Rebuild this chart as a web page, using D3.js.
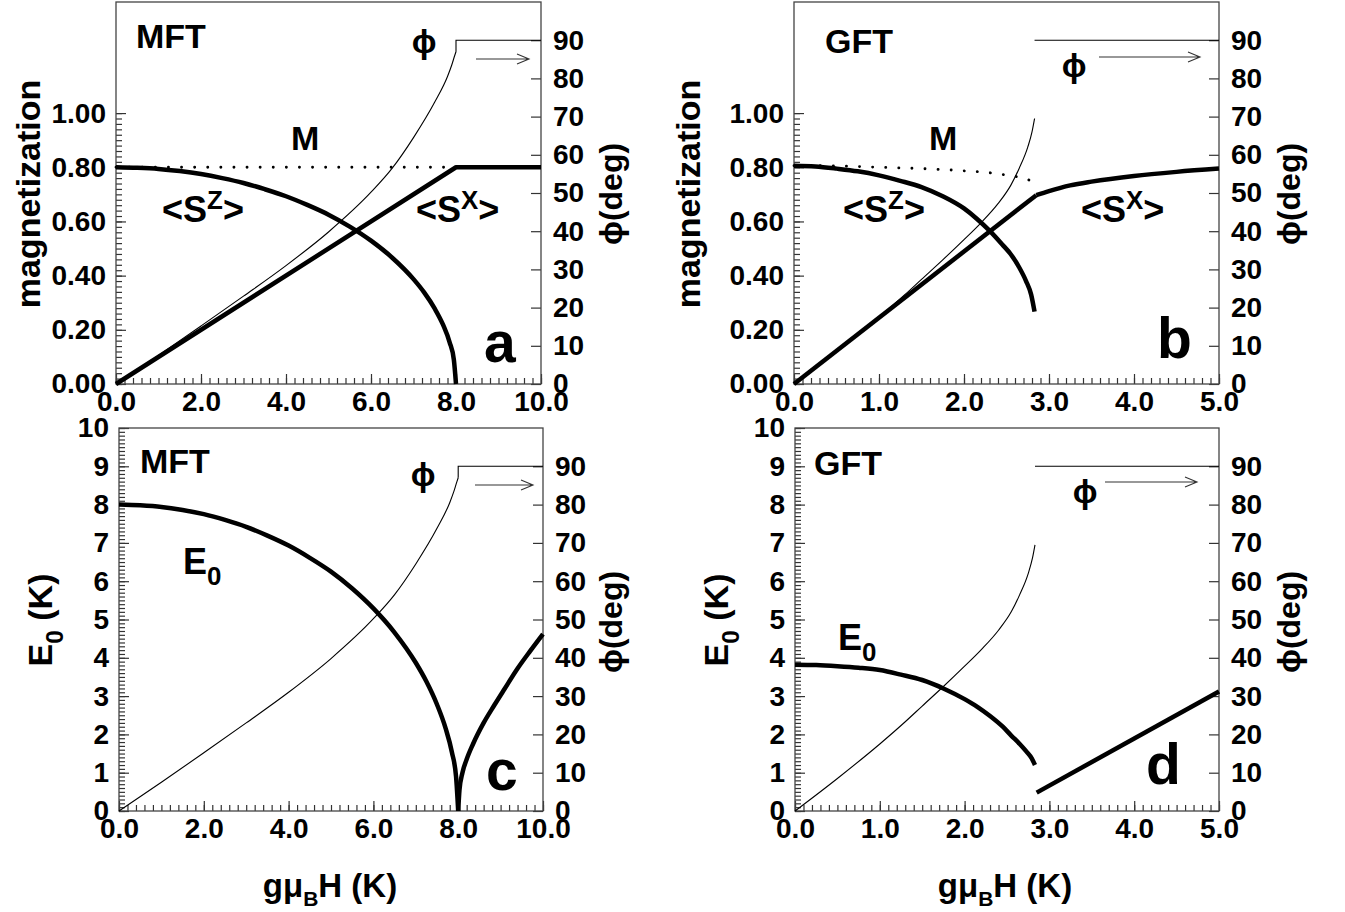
<!DOCTYPE html>
<html>
<head>
<meta charset="utf-8">
<script src="https://cdn.jsdelivr.net/npm/d3@7"></script>
<style>
  body { margin: 0; background: #fff; }
  text { font-family: "Liberation Sans", Arial, sans-serif; font-weight: bold; fill: #000; }
</style>
</head>
<body>
<svg id="fig" width="1345" height="912"></svg>
<script>
// ---- data ----
// MFT (panels a, c), field gμBH in K
var hMFT = [0, 0.5, 1, 1.5, 2, 2.5, 3, 3.5, 4, 4.5, 5, 5.5, 6, 6.5, 7, 7.25, 7.5, 7.7, 7.85, 7.95, 8.0];
var szMFT = [0.800, 0.798, 0.794, 0.786, 0.775, 0.760, 0.742, 0.719, 0.693, 0.661, 0.625, 0.581, 0.529, 0.466, 0.387, 0.338, 0.278, 0.217, 0.154, 0.089, 0];
var e0MFT = [8.00, 7.98, 7.94, 7.86, 7.75, 7.60, 7.42, 7.19, 6.93, 6.61, 6.25, 5.81, 5.29, 4.66, 3.87, 3.38, 2.78, 2.17, 1.54, 0.89, 0];
var hE0MFThigh = [8.0, 8.03, 8.1, 8.2, 8.35, 8.6, 8.85, 9.1, 9.4, 9.7, 10];
var e0MFThigh = [0, 0.55, 1.0, 1.35, 1.75, 2.3, 2.76, 3.2, 3.72, 4.18, 4.62];
var hSxMFT = [0, 8, 10];
var sxMFT = [0, 0.8, 0.8];
var hMMFT = [0, 8];
var mMFT = [0.8, 0.8];
var hPhiMFT = [0, 1, 2, 3, 4, 5, 6, 6.5, 7, 7.5, 7.8, 7.9, 7.97, 8.0];
var phiMFT = [0, 7.5, 15.2, 23.0, 31.0, 39.8, 50.2, 56.5, 64.5, 73.8, 80.5, 83.5, 86, 87];
var hPhiMFTtop = [8.0, 8.0, 10];
var phiMFTtop = [87, 90, 90];

// GFT (panels b, d)
var hLowGFT = [0, 0.25, 0.5, 0.75, 1.0, 1.25, 1.5, 1.75, 2.0, 2.15, 2.3, 2.45, 2.55, 2.65, 2.73, 2.79, 2.83];
var szGFT = [0.806, 0.803, 0.795, 0.785, 0.770, 0.750, 0.727, 0.693, 0.648, 0.610, 0.566, 0.515, 0.479, 0.430, 0.380, 0.330, 0.267];
var e0GFT = [3.82, 3.81, 3.78, 3.74, 3.68, 3.56, 3.42, 3.20, 2.92, 2.72, 2.48, 2.20, 1.97, 1.75, 1.55, 1.38, 1.20];
var hE0GFThigh = [2.85, 5.0];
var e0GFThigh = [0.48, 3.12];
var hSxGFTlow = [0, 2.85];
var sxGFTlow = [0, 0.697];
var hSxGFThigh = [2.85, 3.0, 3.25, 3.5, 4.0, 4.5, 5.0];
var sxGFThigh = [0.697, 0.712, 0.733, 0.747, 0.768, 0.783, 0.795];
var hMGFT = [0, 0.5, 1.0, 1.5, 2.0, 2.3, 2.5, 2.7, 2.85];
var mGFT = [0.806, 0.805, 0.800, 0.795, 0.787, 0.780, 0.771, 0.760, 0.742];
var hPhiGFT = [0, 0.5, 1.0, 1.3, 1.5, 1.75, 2.0, 2.2, 2.4, 2.55, 2.65, 2.75, 2.8, 2.83];
var phiGFT = [0, 8.5, 17.5, 23.3, 27.4, 32.5, 37.8, 42.2, 47.2, 52, 56.5, 62, 66, 69.5];
var hPhiGFThigh = [2.83, 5.0];
var phiGFThigh = [90, 90];

// tick values
var magTicks = [0, 0.2, 0.4, 0.6, 0.8, 1.0];
var eTicks = [0, 1, 2, 3, 4, 5, 6, 7, 8, 9, 10];
var phiTicks = [0, 10, 20, 30, 40, 50, 60, 70, 80, 90];
var hTicksMFT = [0, 2, 4, 6, 8, 10];
var hTicksGFT = [0, 1, 2, 3, 4, 5];

var svg = d3.select("#fig");

// series helper: smooth = monotone spline, otherwise straight segments
function S(xs, ys, smooth) {
  var pts = xs.map(function (v, i) { return [v, ys[i]]; });
  pts.smooth = !!smooth;
  return pts;
}

function drawPanel(cfg) {
  var g = svg.append("g");
  var x = d3.scaleLinear().domain([0, cfg.xMax]).range([cfg.left, cfg.right]);
  var yL = d3.scaleLinear().domain([0, cfg.yMax]).range([cfg.bottom, cfg.top]);
  var yR = d3.scaleLinear().domain([0, 100]).range([cfg.bottom, cfg.top]);

  // minor ticks
  g.append("g").attr("transform", "translate(0," + cfg.bottom + ")")
    .call(d3.axisBottom(x).tickValues(d3.range(0, cfg.xMax + 1e-9, cfg.xMinor)).tickSize(-6).tickFormat(""));
  g.append("g").attr("transform", "translate(" + cfg.left + ",0)")
    .call(d3.axisLeft(yL).tickValues(d3.range(0, cfg.yMinorMax + 1e-9, cfg.yMinor)).tickSize(-6).tickFormat(""));

  // major ticks + labels
  var bx = g.append("g").attr("transform", "translate(0," + cfg.bottom + ")")
    .call(d3.axisBottom(x).tickValues(cfg.xTicks).tickSize(-10).tickPadding(12).tickFormat(d3.format(".1f")));
  var ly = g.append("g").attr("transform", "translate(" + cfg.left + ",0)")
    .call(d3.axisLeft(yL).tickValues(cfg.yTicks).tickSize(-10).tickPadding(10).tickFormat(d3.format(cfg.yFmt)));
  var ry = g.append("g").attr("transform", "translate(" + cfg.right + ",0)")
    .call(d3.axisRight(yR).tickValues(phiTicks).tickSize(-10).tickPadding(12).tickFormat(d3.format("d")));

  g.selectAll(".domain").remove();
  g.selectAll(".tick line").attr("stroke", "#333").attr("stroke-width", 1.2);
  [bx, ly, ry].forEach(function (a) {
    a.attr("font-family", null).attr("font-size", null);
    a.selectAll("text").attr("font-size", 28).attr("fill", "#000");
  });
  bx.selectAll("text").attr("dy", "0.52em");

  // frame
  g.append("rect").attr("x", cfg.left).attr("y", cfg.top)
    .attr("width", cfg.right - cfg.left).attr("height", cfg.bottom - cfg.top)
    .attr("fill", "none").attr("stroke", "#444").attr("stroke-width", 1.3);

  function path(s, yScale) {
    return d3.line()
      .x(function (d) { return x(d[0]); })
      .y(function (d) { return yScale(d[1]); })
      .curve(s.smooth ? d3.curveMonotoneX : d3.curveLinear)(s);
  }

  cfg.thin.forEach(function (s) {
    g.append("path").attr("d", path(s, yR)).attr("fill", "none").attr("stroke", "#000").attr("stroke-width", 1.1);
  });
  (cfg.dotted || []).forEach(function (s) {
    g.append("path").attr("d", path(s, yL)).attr("fill", "none").attr("stroke", "#000")
      .attr("stroke-width", 2.8).attr("stroke-linecap", "round").attr("stroke-dasharray", "0.1,13");
  });
  cfg.thick.forEach(function (s) {
    g.append("path").attr("d", path(s, yL)).attr("fill", "none").attr("stroke", "#000")
      .attr("stroke-width", 4.5).attr("stroke-linejoin", "round");
  });

  // phi arrow
  var a = cfg.arrow;
  g.append("path").attr("d", "M" + a[0] + "," + a[2] + "H" + a[1] + "M" + (a[1] - 12) + "," + (a[2] - 5) + "L" + a[1] + "," + a[2] + "L" + (a[1] - 12) + "," + (a[2] + 5))
    .attr("fill", "none").attr("stroke", "#333").attr("stroke-width", 1.1);

  return g;
}

function label(g, txt, xx, yy, size, anchor) {
  return g.append("text").attr("x", xx).attr("y", yy).attr("font-size", size)
    .attr("text-anchor", anchor || "start").text(txt);
}
function spin(g, xx, yy, size, letter) {
  var t = g.append("text").attr("x", xx).attr("y", yy).attr("font-size", size);
  t.append("tspan").text("<S");
  t.append("tspan").attr("font-size", size * 0.72).attr("dy", -13).text(letter);
  t.append("tspan").attr("dy", 13).text(">");
  return t;
}
function eSub(g, xx, yy, size, rest, rotate) {
  var t = g.append("text").attr("font-size", size);
  if (rotate) t.attr("transform", "translate(" + xx + "," + yy + ") rotate(-90)").attr("text-anchor", "middle");
  else t.attr("x", xx).attr("y", yy);
  t.append("tspan").text("E");
  t.append("tspan").attr("font-size", size * 0.72).attr("dy", 11).text("0");
  if (rest) t.append("tspan").attr("dy", -11).text(rest);
  return t;
}
function rotText(g, txt, xx, yy, size) {
  return g.append("text").attr("transform", "translate(" + xx + "," + yy + ") rotate(-90)")
    .attr("text-anchor", "middle").attr("font-size", size).text(txt);
}
function xTitle(g, xx, yy) {
  var t = g.append("text").attr("x", xx).attr("y", yy).attr("font-size", 33).attr("text-anchor", "middle");
  t.append("tspan").text("gμ");
  t.append("tspan").attr("font-size", 21).attr("dy", 9).text("B");
  t.append("tspan").attr("dy", -9).text("H (K)");
}

// ---- panel a ----
var ga = drawPanel({
  left: 116, right: 541, top: 2, bottom: 384,
  xMax: 10, xTicks: hTicksMFT, xMinor: 0.2,
  yMax: 1.41, yTicks: magTicks, yMinor: 0.02, yMinorMax: 1.0, yFmt: ".2f",
  thin: [S(hPhiMFT, phiMFT, true), S(hPhiMFTtop, phiMFTtop)],
  dotted: [S(hMMFT, mMFT)],
  thick: [S(hMFT, szMFT, true), S(hSxMFT, sxMFT)],
  arrow: [476, 529, 59]
});
label(ga, "MFT", 136, 48, 34);
label(ga, "ϕ", 424, 53, 33, "middle");
label(ga, "M", 291, 150, 34);
spin(ga, 162, 222, 36, "Z");
spin(ga, 416, 222, 36, "X");
label(ga, "a", 484, 362, 57);
rotText(ga, "magnetization", 40, 194, 34);
rotText(ga, "ϕ(deg)", 622, 194, 32);

// ---- panel b ----
var gb = drawPanel({
  left: 794, right: 1219, top: 2, bottom: 384,
  xMax: 5, xTicks: hTicksGFT, xMinor: 0.1,
  yMax: 1.41, yTicks: magTicks, yMinor: 0.02, yMinorMax: 1.0, yFmt: ".2f",
  thin: [S(hPhiGFT, phiGFT, true), S(hPhiGFThigh, phiGFThigh)],
  dotted: [S(hMGFT, mGFT, true)],
  thick: [S(hLowGFT, szGFT, true), S(hSxGFTlow, sxGFTlow), S(hSxGFThigh, sxGFThigh, true)],
  arrow: [1099, 1200, 57]
});
label(gb, "GFT", 825, 53, 34);
label(gb, "ϕ", 1074, 77, 33, "middle");
label(gb, "M", 929, 150, 34);
spin(gb, 843, 222, 36, "Z");
spin(gb, 1081, 222, 36, "X");
label(gb, "b", 1157, 358, 57);
rotText(gb, "magnetization", 700, 194, 34);
rotText(gb, "ϕ(deg)", 1300, 194, 32);

// ---- panel c ----
var gc = drawPanel({
  left: 119, right: 543, top: 428, bottom: 811,
  xMax: 10, xTicks: hTicksMFT, xMinor: 0.2,
  yMax: 10, yTicks: eTicks, yMinor: 0.1, yMinorMax: 10, yFmt: "d",
  thin: [S(hPhiMFT, phiMFT, true), S(hPhiMFTtop, phiMFTtop)],
  thick: [S(hMFT, e0MFT, true), S(hE0MFThigh, e0MFThigh, true)],
  arrow: [475, 533, 485]
});
label(gc, "MFT", 140, 473, 34);
label(gc, "ϕ", 423, 486, 33, "middle");
eSub(gc, 183, 574, 36);
label(gc, "c", 486, 790, 57);
eSub(gc, 52, 620, 34, " (K)", true);
rotText(gc, "ϕ(deg)", 622, 622, 32);
xTitle(gc, 330, 897);

// ---- panel d ----
var gd = drawPanel({
  left: 795, right: 1219, top: 428, bottom: 811,
  xMax: 5, xTicks: hTicksGFT, xMinor: 0.1,
  yMax: 10, yTicks: eTicks, yMinor: 0.1, yMinorMax: 10, yFmt: "d",
  thin: [S(hPhiGFT, phiGFT, true), S(hPhiGFThigh, phiGFThigh)],
  thick: [S(hLowGFT, e0GFT, true), S(hE0GFThigh, e0GFThigh)],
  arrow: [1105, 1197, 482]
});
label(gd, "GFT", 814, 475, 34);
label(gd, "ϕ", 1085, 503, 33, "middle");
eSub(gd, 838, 650, 36);
label(gd, "d", 1146, 784, 57);
eSub(gd, 728, 620, 34, " (K)", true);
rotText(gd, "ϕ(deg)", 1300, 622, 32);
xTitle(gd, 1005, 897);
</script>
</body>
</html>
